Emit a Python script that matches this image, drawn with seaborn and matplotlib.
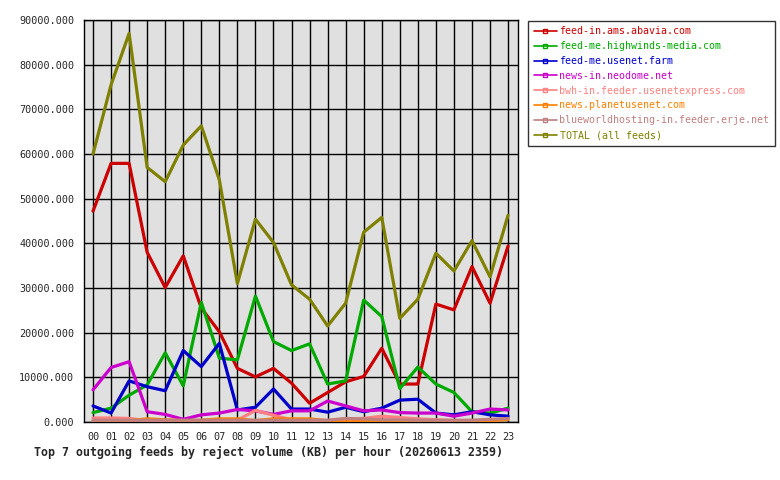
import numpy as np
import pandas as pd
import matplotlib
matplotlib.use("Agg")
import matplotlib.pyplot as plt
import seaborn as sns
from matplotlib.lines import Line2D

hours = ["%02d" % h for h in range(24)]

feeds = [
    "feed-in.ams.abavia.com",
    "feed-me.highwinds-media.com",
    "feed-me.usenet.farm",
    "news-in.neodome.net",
    "bwh-in.feeder.usenetexpress.com",
    "news.planetusenet.com",
    "blueworldhosting-in.feeder.erje.net",
    "TOTAL (all feeds)",
]
colors = ["#cc0000", "#00aa00", "#0000cc", "#cc00cc",
          "#ff8080", "#ff8000", "#c08080", "#808000"]

abavia = [47200, 57900, 57900, 38000, 30100, 37200, 25500, 20200, 12000, 10100,
          12000, 8700, 4200, 6600, 9000, 10200, 16500, 8500, 8500, 26400,
          25100, 34800, 26600, 39400]
highwinds = [2100, 3100, 6000, 8300, 15500, 8100, 26800, 14300, 13900, 28200,
             18000, 16000, 17500, 8500, 9200, 27300, 23600, 7500, 12300, 8500,
             6600, 2300, 2000, 3100]
usenetfarm = [3600, 2000, 9200, 7900, 7000, 16000, 12400, 17600, 2700, 3300,
              7400, 2900, 2900, 2200, 3300, 2300, 3100, 4900, 5100, 2000,
              1600, 2300, 1600, 1300]
neodome = [7200, 12200, 13500, 2300, 1700, 600, 1600, 2000, 2800, 2500,
           1700, 2500, 2500, 4700, 3600, 2500, 2700, 2100, 2000, 2000,
           1300, 2000, 2900, 2700]
bwh = [900, 900, 800, 300, 200, 200, 200, 200, 400, 2600,
       1500, 500, 300, 300, 700, 800, 1300, 1000, 700, 500,
       300, 300, 400, 600]
planet = [300, 300, 300, 700, 500, 300, 400, 700, 700, 300,
          700, 700, 700, 300, 0, 200, 300, 300, 300, 300,
          200, 200, 300, 600]
blueworld = [400, 400, 400, 400, 400, 400, 400, 400, 400, 400,
             400, 400, 400, 400, 800, 700, 500, 500, 400, 400,
             400, 400, 600, 800]
total = [60000, 75500, 87000, 57000, 53800, 62000, 66300, 54200, 31000, 45400,
         40200, 30700, 27500, 21500, 26600, 42500, 45800, 23200, 27500, 37800,
         33800, 40600, 32500, 46300]

series = [abavia, highwinds, usenetfarm, neodome, bwh, planet, blueworld, total]

df = pd.concat(
    [pd.DataFrame({"hour": range(24), "kb": vals, "feed": name})
     for name, vals in zip(feeds, series)],
    ignore_index=True,
)

sns.set_style("white")
plt.rcParams["font.family"] = ["DejaVu Sans Mono"]
plt.rcParams["font.size"] = 7.3

fig = plt.figure(figsize=(7.8, 4.8), dpi=100)
ax = fig.add_axes([84 / 780, 58 / 480, 434 / 780, 402 / 480])
ax.set_facecolor("#e0e0e0")

sns.lineplot(data=df, x="hour", y="kb", hue="feed", hue_order=feeds,
             palette=dict(zip(feeds, colors)), linewidth=2.3, legend=False,
             ax=ax, zorder=3)

ax.set_xlim(-0.5, 23.55)
ax.set_ylim(0, 90000)
ax.set_xticks(range(24))
ax.set_xticklabels(hours)
ax.set_yticks(np.arange(0, 90001, 10000))
ax.set_yticklabels(["%.3f" % v for v in np.arange(0, 90001, 10000)])
ax.grid(True, color="black", linewidth=1.0, zorder=1)
ax.set_axisbelow(True)
for s in ax.spines.values():
    s.set_color("black")
    s.set_linewidth(1.0)
ax.tick_params(axis="both", direction="out", length=4, width=1, color="black",
               labelsize=7.3, pad=3)
ax.set_xlabel("")
ax.set_ylabel("")

fig.text(34 / 780, 1 - 452 / 480,
         "Top 7 outgoing feeds by reject volume (KB) per hour (20260613 2359)",
         fontsize=8.4, fontweight="bold", ha="left", va="center")

handles = [Line2D([0], [0], color=c, linewidth=1.2, marker="s", markersize=3,
                  markerfacecolor="none", markeredgecolor=c) for c in colors]
leg = fig.legend(handles, feeds, loc="upper left",
                 bbox_to_anchor=(528 / 780, 1 - 21 / 480),
                 frameon=True, fancybox=False, edgecolor="black",
                 fontsize=7.2, handlelength=2.3, handletextpad=0.3,
                 labelspacing=0.48, borderpad=0.55, borderaxespad=0)
leg.get_frame().set_linewidth(1.0)
for t, c in zip(leg.get_texts(), colors):
    t.set_color(c)

fig.savefig("out.png", dpi=100, facecolor="white")
